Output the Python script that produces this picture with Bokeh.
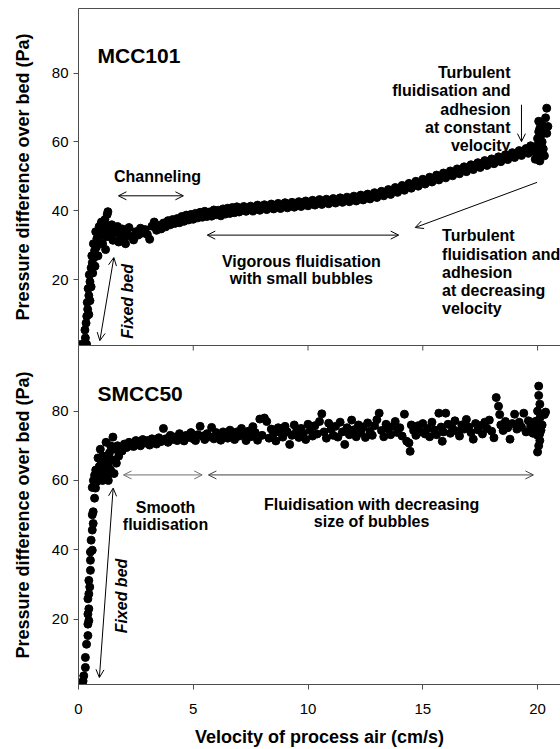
from bokeh.plotting import figure
from bokeh.models import Range1d, LinearAxis, FixedTicker, Arrow, OpenHead, ColumnDataSource
from bokeh.layouts import column
from bokeh.core.properties import value
from bokeh.embed import file_html
from bokeh.resources import INLINE
import math

# ---------------- data: MCC101 (top) ----------------
mcc_rise_x = [0.05, 0.15, 0.25, 0.35, 0.3, 0.28, 0.33, 0.36, 0.4, 0.38, 0.45, 0.42, 0.5, 0.47, 0.55,
              0.6, 0.58, 0.68, 0.7, 0.65, 0.78, 0.8, 0.75, 0.88, 0.9, 0.95, 1.0, 1.05, 1.1, 1.15,
              1.2, 1.25, 1.28, 1.22, 1.18, 0.45, 0.5, 0.55, 0.62, 0.72, 0.85]
mcc_rise_y = [1.2, 1.3, 1.2, 1.4, 3.2, 5.5, 7.5, 9.5, 11.5, 13.5, 15.5, 17.5, 19.5, 21.5, 23.5,
              25, 27, 26.5, 28.5, 30.5, 29.5, 32, 34, 31, 35.5, 33, 36.8, 30.5, 34, 37.5,
              32.5, 39, 39.8, 35.5, 28.8, 10, 14, 18, 22, 24, 27]

mcc_band_x = [1.3, 1.4, 1.45, 1.5, 1.6, 1.7, 1.75, 1.8, 1.9, 2.0, 2.05, 2.1, 2.2, 2.3, 2.4, 2.5, 2.6,
              2.7, 2.8, 2.9, 3.0, 3.1, 3.2, 3.3, 3.4, 3.5, 3.6, 3.7, 3.8, 3.9, 4.0, 4.1, 4.2, 4.3,
              4.4, 4.5, 4.6, 4.7, 4.8, 4.9, 5.0, 5.1, 5.2, 5.3, 5.4, 5.5, 5.6, 5.7, 5.8, 5.9, 6.0,
              6.1, 6.2, 6.3, 6.4, 6.5, 6.6, 6.7, 6.8, 6.9, 7.0, 7.2, 7.3, 7.5, 7.6, 7.8, 7.9, 8.1,
              8.2, 8.4, 8.5, 8.7, 8.8, 9.0, 9.1, 9.3, 9.4, 9.6, 9.7, 9.9, 10.0, 10.2, 10.3, 10.5,
              10.6, 10.8, 10.9, 11.1, 11.2, 11.4, 11.5, 11.7, 11.8, 12.0, 12.1, 12.3, 12.4, 12.6,
              12.7, 12.9, 13.0, 13.2, 13.3, 13.5, 13.6, 13.8, 13.9, 14.1, 14.2, 14.4, 14.5, 14.7,
              14.8, 15.0, 15.1, 15.3, 15.4, 15.6, 15.7, 15.9, 16.0, 16.2, 16.3, 16.5, 16.6, 16.8,
              16.9, 17.1, 17.2, 17.4, 17.5, 17.7, 17.8, 18.0, 18.1, 18.3, 18.4, 18.6, 18.7, 18.9,
              19.0, 19.2, 19.3, 19.5, 19.6, 19.7, 19.8]
mcc_band_y = [34.5, 32.5, 36, 31.5, 33.8, 35.5, 31, 33, 34.8, 32.2, 30.5, 33.8, 35.2, 32.6, 31.6, 34, 33,
              35, 33.6, 34.6, 33.2, 31.8, 35.6, 36.8, 34.4, 35.8, 34.8, 36.5, 35.4, 37.2, 36, 37.5, 36.4, 37.8,
              36.6, 38.4, 37.0, 38.8, 37.4, 39.0, 37.6, 39.3, 38.0, 39.6, 38.2, 39.9, 38.4, 39.7, 38.5, 40.3, 38.9,
              40.2, 38.6, 40.6, 39.1, 40.8, 39.3, 41.0, 39.5, 41.2, 39.7, 41.3, 39.9, 41.4, 40.0, 41.7, 40.2, 41.8,
              40.4, 42.0, 40.6, 42.2, 40.7, 42.4, 40.9, 42.5, 41.1, 42.7, 41.3, 42.9, 41.5, 43.1, 41.7, 43.3,
              41.9, 43.4, 42.1, 43.6, 42.3, 43.8, 42.5, 44.0, 42.7, 44.3, 42.9, 44.6, 43.2, 44.9,
              43.5, 45.3, 43.9, 45.7, 44.4, 46.2, 44.8, 46.8, 45.4, 47.4, 46.0, 48.0, 46.6, 48.6,
              47.2, 49.2, 47.8, 49.8, 48.4, 50.4, 49.0, 51.0, 49.6, 51.6, 50.2, 52.2, 50.8, 52.8,
              51.4, 53.4, 52.0, 54.0, 52.6, 54.6, 53.2, 55.1, 53.7, 55.7, 54.3, 56.3, 54.9, 56.9,
              55.5, 57.5, 56.1, 58.1, 56.7, 58.9, 57.3]

mcc_end_x = [19.9, 19.95, 20.0, 20.0, 20.05, 20.1, 20.05, 20.15, 20.2, 20.2, 20.25, 20.3, 20.1,
             20.35, 20.4, 20.3, 20.15, 20.0, 20.45, 20.4]
mcc_end_y = [55, 57, 59, 61, 63, 64, 66, 62, 60, 65, 58, 56, 54.5,
             67, 69.8, 63, 57, 55.5, 64.5, 62.5]

# ---------------- data: SMCC50 (bottom) ----------------
smcc_rise_x = [0.16, 0.23, 0.3, 0.3, 0.35, 0.41, 0.41, 0.45, 0.41, 0.45, 0.41, 0.45, 0.49, 0.45,
               0.52, 0.52, 0.52, 0.6, 0.55, 0.6, 0.64, 0.6, 0.64, 0.7, 0.74, 0.81, 0.1, 0.2]
smcc_rise_y = [1.7, 3.7, 6.1, 9.0, 12.8, 15.3, 18.6, 19.6, 21.5, 23, 25.9, 27.3, 29.3, 31.2,
               34.1, 37, 39.4, 39.9, 42.8, 45.7, 47.6, 50.1, 51, 54.9, 57.8, 59.7, 1.5, 2.2]

smcc_cluster_x = [0.6, 0.65, 0.7, 0.75, 0.8, 0.85, 0.9, 0.95, 0.85, 1.0, 1.05, 1.1, 1.15, 1.2, 1.25,
                  1.3, 1.35, 1.4, 1.45, 1.5, 1.55, 1.6, 1.65, 1.7, 0.95, 1.2, 1.05, 1.3, 0.7, 1.4, 1.75]
smcc_cluster_y = [58, 60, 61.5, 63, 60, 62, 64, 66, 66.5, 62, 60, 63, 65, 67, 61,
                  64, 68, 70, 66, 72.5, 62, 69, 65, 70, 69, 71, 67, 60, 58.5, 63, 67]

smcc_band_x = [1.8, 1.9, 2.0, 2.1, 2.2, 2.3, 2.4, 2.5, 2.6, 2.7, 2.8, 2.9, 3.0, 3.1, 3.2, 3.3, 3.4, 3.5,
               3.6, 3.7, 3.8, 3.9, 4.0, 4.1, 4.2, 4.3, 4.4, 4.5, 4.6, 4.7, 4.8, 4.9, 5.0, 5.1, 5.2, 5.3,
               5.4, 5.5, 5.6, 5.7, 5.8, 5.9, 6.0, 6.1, 6.2, 6.3, 6.4, 6.5, 6.6, 6.7, 6.8, 6.9, 7.0, 7.1,
               7.2, 7.3, 7.4, 7.5, 7.6, 7.7, 7.8, 7.9, 8.0, 8.1, 8.2, 8.3, 8.4, 8.5, 8.6, 8.7, 8.8, 8.9,
               9.0, 9.1, 9.2, 9.3, 9.4, 9.5, 9.6, 9.7, 9.8, 9.9, 10.0, 10.1, 10.2, 10.3, 10.4, 10.5,
               10.6, 10.7, 10.8, 10.9, 11.0, 11.1, 11.2, 11.3, 11.4, 11.5, 11.6, 11.7, 11.8, 11.9,
               12.0, 12.1, 12.2, 12.3, 12.4, 12.5, 12.6, 12.7, 12.8, 12.9, 13.0, 13.1, 13.2, 13.3,
               13.4, 13.5, 13.6, 13.7, 13.8, 13.9, 14.0, 14.1, 14.2, 14.3, 14.4, 14.45, 14.5, 14.6,
               14.7, 14.8, 14.9, 15.0, 15.1, 15.2, 15.3, 15.4, 15.5, 15.6, 15.7, 15.8, 15.85, 15.9,
               16.0, 16.1, 16.2, 16.3, 16.4, 16.5, 16.6, 16.7, 16.8, 16.9, 17.0, 17.1, 17.2, 17.3,
               17.4, 17.5, 17.6, 17.7, 17.8, 17.9, 18.0, 18.1, 18.2, 18.3, 18.35, 18.4, 18.5, 18.6,
               18.7, 18.8, 18.9, 19.0, 19.1, 19.2, 19.3, 19.4, 19.5, 19.6, 19.7, 19.8, 19.9]
smcc_band_y = [69.5, 68.5, 70.5, 69.5, 71, 70, 69.8, 71.5, 70.5, 70, 71.8, 70.8, 71.5, 70.2, 72, 71, 70.5, 72.3,
               71.2, 75, 72, 71, 73, 71.8, 72.5, 71.5, 73.5, 72.2, 71.4, 73, 72.4, 73.8, 72, 71.5, 73.2, 75.6,
               72.8, 71.8, 73.5, 72.6, 75.3, 72, 73.8, 72.5, 71.6, 74, 73, 72.2, 74.5, 73.2, 71.8, 74, 72.8, 75,
               73.4, 71.5, 74.2, 72.6, 75.5, 73.8, 71.6, 77.7, 73, 78, 77, 72.2, 74.8, 73.5, 71.4, 75.2, 73.8, 72.5,
               75.6, 74, 70.4, 73, 76, 74.2, 72.4, 75, 73.6, 71.8, 76.2, 74.5, 72.8, 75.8, 73.4, 77,
               79.2, 74, 72.2, 76.5, 74.8, 73, 75.6, 72.5, 76.8, 74, 70.4, 75.2, 73.2, 77.4,
               74.6, 72.6, 76, 73.8, 75.4, 72.4, 76.6, 74.2, 73, 75.8, 77.5, 79.4, 74.4, 72.6,
               76.2, 74.8, 73.2, 75.6, 77, 73.8, 75.2, 72.8, 79.1, 71.3, 70.8, 68.4, 76, 74.4,
               73, 75.8, 74, 76.4, 73.4, 75, 72.6, 76.8, 74.6, 73.2, 79.4, 75.4, 71.3, 74,
               79.4, 76.2, 73.6, 75, 77.2, 74.2, 72.8, 76, 74.8, 77.6, 75.4, 73.8, 71.9, 76.4,
               74.6, 75.8, 73.4, 76.8, 75, 77.4, 74.2, 72.3, 83.9, 81.4, 79, 76, 74.4, 77,
               75.2, 71.9, 76.4, 79.1, 74.8, 76.8, 75.4, 79.4, 74, 77.2, 75.6, 73.6, 77]

smcc_end_x = [20.05, 20.05, 20.1, 20.0, 20.1, 20.05, 20.15, 20.0, 20.1, 20.05, 20.0, 20.2, 20.3,
              19.95, 20.1, 19.95, 20.35]
smcc_end_y = [87.2, 84.5, 82, 80, 78, 76, 74.5, 73, 71.5, 70, 68.2, 76, 79,
              77, 73.5, 75.5, 79.7]

x_ticks = [0, 5, 10, 15, 20]
y_ticks = [20, 40, 60, 80]

FONT = value("Liberation Sans")
AXIS_COLOR = "#4d4d4d"
X_END = 21.0
TOP_Y = (1.0, 98.7)
BOT_Y = (1.2, 98.9)


def style_panel(p):
    p.grid.visible = False
    p.outline_line_color = None
    ya = p.yaxis[0]
    ya.ticker = FixedTicker(ticks=y_ticks)
    ya.axis_label = "Pressure difference over bed (Pa)"
    ya.axis_label_text_font = "Liberation Sans"
    ya.axis_label_text_font_style = "bold"
    ya.axis_label_text_font_size = "18px"
    ya.axis_label_text_color = "black"
    ya.axis_label_standoff = 16
    ya.major_label_text_font = "Liberation Sans"
    ya.major_label_text_font_size = "15px"
    ya.major_label_text_color = "black"
    ya.major_label_standoff = 5
    ya.major_tick_out = 5
    ya.major_tick_in = 0
    ya.minor_tick_line_color = None
    ya.axis_line_color = AXIS_COLOR
    ya.major_tick_line_color = AXIS_COLOR


def top_line(p):
    ax = LinearAxis(ticker=FixedTicker(ticks=[]), major_tick_out=0, major_tick_in=0,
                    minor_tick_out=0, minor_tick_in=0, major_label_standoff=0,
                    axis_line_color=AXIS_COLOR)
    p.add_layout(ax, "above")


def add_text(p, xs, ys, texts, size="16px", align="center", style="bold", angle=0.0):
    src = ColumnDataSource(dict(x=xs, y=ys, t=texts))
    p.text(x="x", y="y", text="t", source=src, text_font=FONT, text_font_style=style,
           text_font_size=size, text_align=align, text_baseline="alphabetic",
           text_color="black", angle=angle)


def add_arrow(p, x0, y0, x1, y1, both=True, color="black"):
    end = OpenHead(size=8, line_width=1, line_color=color)
    start = OpenHead(size=8, line_width=1, line_color=color) if both else None
    p.add_layout(Arrow(x_start=x0, y_start=y0, x_end=x1, y_end=y1, start=start, end=end,
                       line_width=1, line_color=color))


# ---------------- top panel ----------------
p1 = figure(width=560, height=345, x_range=Range1d(0, X_END), y_range=Range1d(*TOP_Y),
            output_backend="svg", toolbar_location=None, x_axis_location=None,
            min_border_left=78, min_border_right=0, min_border_top=8, min_border_bottom=0)
style_panel(p1)
top_line(p1)

for xs, ys in [(mcc_rise_x, mcc_rise_y), (mcc_band_x, mcc_band_y), (mcc_end_x, mcc_end_y)]:
    p1.scatter(xs, ys, size=8, color="black")

add_text(p1, [0.83], [85.2], ["MCC101"], size="21px", align="left")
add_text(p1, [3.44], [50.0], ["Channeling"])
add_arrow(p1, 1.74, 44.4, 4.57, 44.4)
add_text(p1, [2.12], [13.8], ["Fixed bed"], style="bold italic", angle=math.pi / 2)
add_arrow(p1, 0.93, 2.4, 1.54, 26.5)
add_arrow(p1, 5.61, 33.0, 13.95, 33.0)
add_text(p1, [9.71, 9.71], [25.3, 20.3], ["Vigorous fluidisation", "with small bubbles"])
add_text(p1, [18.82] * 5, [80.2, 74.9, 69.55, 64.2, 58.9],
         ["Turbulent", "fluidisation and", "adhesion", "at constant", "velocity"], align="right")
add_arrow(p1, 19.3, 70.8, 19.3, 60.1, both=False)
add_arrow(p1, 19.98, 48.3, 14.67, 35.2, both=False)
add_text(p1, [15.84] * 5, [32.8, 27.5, 22.2, 16.9, 11.6],
         ["Turbulent", "fluidisation and", "adhesion", "at decreasing", "velocity"], align="left")

# ---------------- bottom panel ----------------
p2 = figure(width=560, height=404, x_range=Range1d(0, X_END), y_range=Range1d(*BOT_Y),
            output_backend="svg", toolbar_location=None,
            min_border_left=78, min_border_right=0, min_border_top=0, min_border_bottom=0)
style_panel(p2)
xa = p2.xaxis[0]
xa.ticker = FixedTicker(ticks=x_ticks)
xa.axis_label = "Velocity of process air (cm/s)"
xa.axis_label_text_font = "Liberation Sans"
xa.axis_label_text_font_style = "bold"
xa.axis_label_text_font_size = "18px"
xa.axis_label_text_color = "black"
xa.axis_label_standoff = 10
xa.major_label_text_font = "Liberation Sans"
xa.major_label_text_font_size = "15px"
xa.major_label_text_color = "black"
xa.major_label_standoff = 14
xa.major_tick_out = 5
xa.major_tick_in = 0
xa.minor_tick_line_color = None
xa.axis_line_color = AXIS_COLOR
xa.major_tick_line_color = AXIS_COLOR
top_line(p2)
# inward tick marks along the top edge of the lower panel (about 5 px long)
tick_len = 5 * (BOT_Y[1] - BOT_Y[0]) / 337
p2.segment(x0=x_ticks, y0=[BOT_Y[1]] * len(x_ticks), x1=x_ticks,
           y1=[BOT_Y[1] - tick_len] * len(x_ticks), line_color=AXIS_COLOR, line_width=1)

for xs, ys in [(smcc_rise_x, smcc_rise_y), (smcc_cluster_x, smcc_cluster_y),
               (smcc_band_x, smcc_band_y), (smcc_end_x, smcc_end_y)]:
    p2.scatter(xs, ys, size=8, color="black")

add_text(p2, [0.83], [85.1], ["SMCC50"], size="21px", align="left")
add_arrow(p2, 1.96, 61.6, 5.39, 61.6, color="#707070")
add_arrow(p2, 5.66, 61.6, 19.82, 61.6, color="#404040")
add_text(p2, [3.79, 3.79], [52.3, 47.2], ["Smooth", "fluidisation"])
add_text(p2, [12.77, 12.77], [53.1, 48.1], ["Fluidisation with decreasing", "size of bubbles"])
add_text(p2, [1.86], [26.7], ["Fixed bed"], style="bold italic", angle=math.pi / 2)
add_arrow(p2, 0.91, 3.2, 1.51, 57.8)

layout = column(p1, p2)
open("out.html", "w").write(file_html(layout, INLINE))
